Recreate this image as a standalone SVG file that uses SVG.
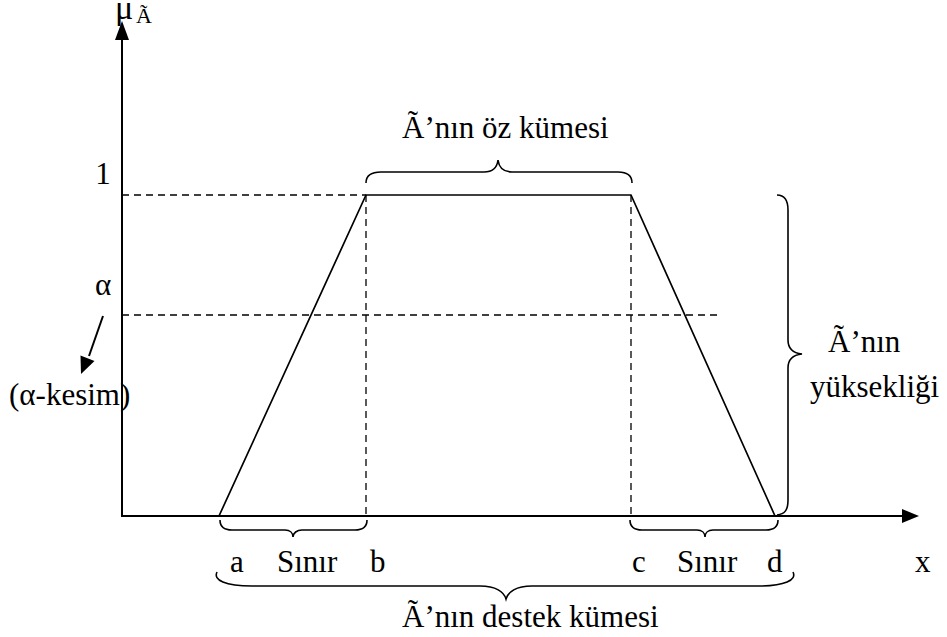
<svg xmlns="http://www.w3.org/2000/svg" width="947" height="637" viewBox="0 0 947 637">
<style>
.t{font-family:'Liberation Serif','DejaVu Serif',serif;font-size:31px;fill:#000}
.mu{font-family:'Liberation Serif','DejaVu Serif',serif;font-size:34px;fill:#000}
.sub{font-family:'Liberation Serif','DejaVu Serif',serif;font-size:22px;fill:#000}
.ax{stroke:#000;stroke-width:2;fill:none}
.tr{stroke:#000;stroke-width:1.7;fill:none}
.da{stroke:#000;stroke-width:1.3;stroke-dasharray:7,5;fill:none}
.br{stroke:#000;stroke-width:1.6;fill:none}
.ah{fill:#000;stroke:none}
</style>
<rect width="947" height="637" fill="#fff"/>
<g id="connectors">
<line class="ax" x1="122" y1="516" x2="122" y2="36"/>
<polygon class="ah" points="122,21 115,40 129,40"/>
<line class="ax" x1="121" y1="516" x2="905" y2="516"/>
<polygon class="ah" points="919,516 902,509 902,523"/>
<polyline class="tr" points="219,516 366,195 631,195 775,516"/>
<line class="da" x1="122" y1="195" x2="366" y2="195"/>
<line class="da" x1="366" y1="195" x2="366" y2="516"/>
<line class="da" x1="631" y1="195" x2="631" y2="516"/>
<line class="da" x1="122" y1="315" x2="722" y2="315"/>
<line class="ax" x1="103" y1="316" x2="89" y2="356"/>
<polygon class="ah" points="81,374 94.5,361 80.5,355.5"/>
</g>
<g id="braces">
<path class="br" d="M366,183 C366,175 372,172 381,172 L484,172 C492,172 497,168 498,160 C499,168 504,172 512,172 L618,172 C627,172 632,175 632,183"/>
<path class="br" d="M777,195 C785,195 788,200 788,210 L788,340 C788,348 792,353 802,354 C792,355 788,360 788,368 L788,500 C788,510 785,514 777,515"/>
<path class="br" d="M220,520 C220,527 224,530 232,530 L285,530 C290,530 293,533 293,537 C293,533 297,530 302,530 L355,530 C363,530 367,527 367,520"/>
<path class="br" d="M630,520 C630,527 634,530 642,530 L697,530 C702,530 705,533 705,537 C705,533 708,530 713,530 L766,530 C774,530 778,527 778,520"/>
<path class="br" d="M217,572 C213,580 225,586 252,586 L480,586 C496,586 504,592 506,599 C508,592 516,586 532,586 L758,586 C785,586 797,580 793,572"/>
</g>
<g id="labels">
<text class="mu" x="115" y="19">μ</text>
<text class="sub" x="136" y="23">Ã</text>
<text class="t" x="103" y="184" text-anchor="middle">1</text>
<text class="t" x="103" y="295" text-anchor="middle">α</text>
<text class="t" x="9" y="405">(α-kesim)</text>
<text class="t" x="402" y="138">Ã’nın öz kümesi</text>
<text class="t" x="828" y="352">Ã’nın</text>
<text class="t" x="810" y="397">yüksekliği</text>
<text class="t" x="230" y="572">a</text>
<text class="t" x="277" y="572">Sınır</text>
<text class="t" x="370" y="572">b</text>
<text class="t" x="632" y="572">c</text>
<text class="t" x="677" y="572">Sınır</text>
<text class="t" x="767" y="572">d</text>
<text class="t" x="915" y="572">x</text>
<text class="t" x="402" y="627">Ã’nın destek kümesi</text>
</g>
</svg>
